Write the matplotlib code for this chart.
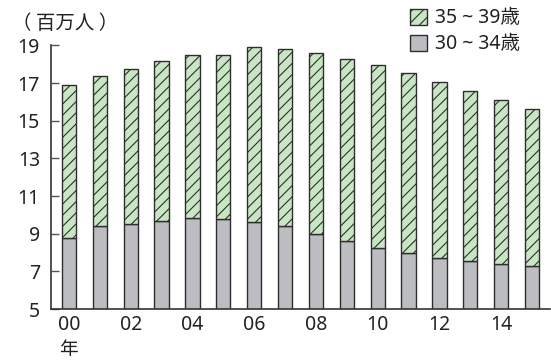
import matplotlib
matplotlib.use("Agg")
import matplotlib.pyplot as plt
from matplotlib.patches import Patch
import numpy as np

plt.rcParams['font.family'] = ['Noto Sans', 'Noto Sans CJK JP', 'DejaVu Sans']
plt.rcParams['hatch.linewidth'] = 0.8

years = ["00", "01", "02", "03", "04", "05", "06", "07",
         "08", "09", "10", "11", "12", "13", "14", "15"]
age_30_34 = [8.75, 9.4, 9.53, 9.7, 9.82, 9.77, 9.6, 9.4,
             8.97, 8.6, 8.25, 7.96, 7.7, 7.57, 7.4, 7.3]
total_30_39 = [16.88, 17.39, 17.74, 18.18, 18.48, 18.5, 18.9, 18.8,
               18.6, 18.3, 17.98, 17.55, 17.07, 16.56, 16.1, 15.63]
age_35_39 = [t - b for t, b in zip(total_30_39, age_30_34)]

y_ticks = [5, 7, 9, 11, 13, 15, 17, 19]
x_tick_labels = ["00", "02", "04", "06", "08", "10", "12", "14"]

green = "#c9e6c4"
gray = "#bcbdc1"
edge = "#2e2e2e"
text_color = "#222222"

fig = plt.figure(figsize=(5.51, 3.61), dpi=100)
ax = fig.add_axes([0.0926, 0.144, 0.905, 0.73])

x = np.arange(len(years))
w = 0.46
ax.bar(x, age_30_34, width=w, color=gray, edgecolor=edge, linewidth=1.0, zorder=2)
ax.bar(x, age_35_39, width=w, bottom=age_30_34, color=green, edgecolor=edge,
       linewidth=1.0, hatch="///", zorder=2)

ax.set_ylim(5, 19)
ax.set_xlim(-0.58, 15.57)
ax.set_yticks(y_ticks)
ax.set_yticklabels([str(v) for v in y_ticks], fontsize=14, color=text_color)
ax.set_xticks(x[::2])
ax.set_xticklabels(x_tick_labels, fontsize=14, color=text_color)
ax.tick_params(axis="y", direction="in", length=6, width=1, color="#555555", pad=8)
ax.tick_params(axis="x", length=0, pad=4)

for s in ["top", "right"]:
    ax.spines[s].set_visible(False)
for s in ["left", "bottom"]:
    ax.spines[s].set_color("#333333")
    ax.spines[s].set_linewidth(1.2)

fig.text(0.022, 0.934, "（ 百万人 ）", fontsize=14, color=text_color, va="center", ha="left",
         family=["Noto Sans CJK JP", "DejaVu Sans"])
fig.text(0.124, 0.03, "年", fontsize=13.5, color=text_color, va="center", ha="center")

handles = [Patch(facecolor=green, edgecolor=edge, hatch="///", linewidth=1.0),
           Patch(facecolor=gray, edgecolor=edge, linewidth=1.0)]
fig.legend(handles, ["35 ~ 39歳", "30 ~ 34歳"], loc="upper left",
           bbox_to_anchor=(0.712, 1.025), frameon=False, fontsize=14,
           handlelength=0.9, handleheight=0.9, handletextpad=0.4,
           labelspacing=0.3, labelcolor=text_color)

fig.savefig("out.png", dpi=100)
